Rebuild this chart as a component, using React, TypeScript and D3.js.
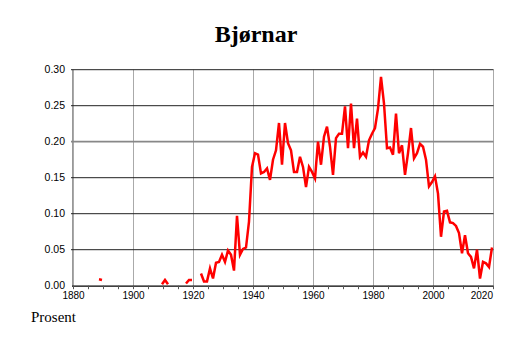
import React from "react";
import * as d3 from "d3";

const years: number[] = d3.range(1880, 2020);
const knownYears: number[] = [
  1888, 1889,
  1909, 1910, 1911,
  1917, 1918, 1919,
  1922, 1923, 1924, 1925, 1926, 1927, 1928, 1929, 1930, 1931,
  1932, 1933, 1934, 1935, 1936, 1937, 1938, 1939, 1940, 1941,
  1942, 1943, 1944, 1945, 1946, 1947, 1948, 1949, 1950, 1951,
  1952, 1953, 1954, 1955, 1956, 1957, 1958, 1959, 1960, 1961,
  1962, 1963, 1964, 1965, 1966, 1967, 1968, 1969, 1970, 1971,
  1972, 1973, 1974, 1975, 1976, 1977, 1978, 1979, 1980, 1981,
  1982, 1983, 1984, 1985, 1986, 1987, 1988, 1989, 1990, 1991,
  1992, 1993, 1994, 1995, 1996, 1997, 1998, 1999, 2000, 2001,
  2002, 2003, 2004, 2005, 2006, 2007, 2008, 2009, 2010, 2011,
  2012, 2013, 2014, 2015, 2016, 2017, 2018, 2019,
];
const knownValues: number[] = [
  0.009, 0.008,
  0.002, 0.008, 0.002,
  0.003, 0.008, 0.008,
  0.017, 0.006, 0.006, 0.024, 0.010, 0.032, 0.033, 0.043, 0.033, 0.049,
  0.043, 0.021, 0.097, 0.043, 0.051, 0.053, 0.089, 0.165, 0.184, 0.182,
  0.156, 0.158, 0.163, 0.147, 0.175, 0.188, 0.226, 0.168, 0.226, 0.198,
  0.188, 0.158, 0.158, 0.179, 0.165, 0.137, 0.165, 0.158, 0.149, 0.200,
  0.168, 0.207, 0.221, 0.193, 0.154, 0.205, 0.211, 0.211, 0.249, 0.191,
  0.253, 0.191, 0.232, 0.179, 0.185, 0.179, 0.202, 0.211, 0.219, 0.246,
  0.290, 0.253, 0.191, 0.192, 0.182, 0.239, 0.184, 0.195, 0.154, 0.184,
  0.219, 0.177, 0.184, 0.197, 0.193, 0.175, 0.138, 0.144, 0.152, 0.128,
  0.068, 0.103, 0.104, 0.088, 0.087, 0.083, 0.073, 0.045, 0.070, 0.045,
  0.040, 0.024, 0.050, 0.010, 0.033, 0.031, 0.026, 0.053,
];
const yTicks: number[] = [0, 0.05, 0.1, 0.15, 0.2, 0.25, 0.3];
const xMajorTicks: number[] = [1880, 1900, 1920, 1940, 1960, 1980, 2000, 2020];
const xMinorTicks: number[] = d3.range(1880, 2021, 5);
const title = "Bjørnar";
const yUnit = "Prosent";

export default function App() {
  const W = 514;
  const H = 343;
  const x = d3.scaleLinear().domain([1880, 2020]).range([73.5, 493.5]);
  const y = d3.scaleLinear().domain([0, 0.3]).range([285.7, 69.7]);

  const lookup = new Map<number, number>();
  knownYears.forEach((yr, i) => lookup.set(yr, knownValues[i]));
  const series = years.map((yr) => ({ yr, v: lookup.has(yr) ? (lookup.get(yr) as number) : null }));

  const line = d3
    .line<{ yr: number; v: number | null }>()
    .defined((d) => d.v !== null)
    .x((d) => x(d.yr + 0.5))
    .y((d) => y(d.v as number));

  const sans = "'Liberation Sans', Arial, sans-serif";
  const serif = "'Liberation Serif', 'Times New Roman', serif";

  return (
    <svg
      width={W}
      height={H}
      style={{ position: "absolute", left: 0, top: 0, background: "#fff" }}
    >
      <text
        x={256}
        y={41.5}
        textAnchor="middle"
        fontFamily={serif}
        fontWeight="bold"
        fontSize={24}
        fill="#000"
      >
        {title}
      </text>

      {/* vertical grid */}
      {xMajorTicks.map((t) => (
        <line
          key={"vg" + t}
          x1={x(t)}
          x2={x(t)}
          y1={y(0.3)}
          y2={y(0)}
          stroke="#aaa"
          strokeWidth={1}
        />
      ))}
      {/* left axis */}
      <line x1={72.5} x2={72.5} y1={y(0.3)} y2={y(0)} stroke="#999" strokeWidth={1} />

      {/* horizontal grid */}
      {yTicks.map((t) =>
        t === 0 ? null : (
          <line
            key={"hg" + t}
            x1={71}
            x2={493.5}
            y1={y(t)}
            y2={y(t)}
            stroke={Math.abs(t - 0.2) < 1e-9 ? "#888" : "#222"}
            strokeWidth={Math.abs(t - 0.2) < 1e-9 ? 1.8 : 1}
          />
        )
      )}

      {/* y labels */}
      {yTicks.map((t) => (
        <text
          key={"yl" + t}
          x={65}
          y={y(t) + 3.6}
          textAnchor="end"
          fontFamily={sans}
          fontSize={10.5}
          fill="#000"
        >
          {t.toFixed(2)}
        </text>
      ))}

      {/* data line */}
      <path
        d={line(series) || ""}
        fill="none"
        stroke="#ff0000"
        strokeWidth={2.5}
        strokeLinejoin="miter"
      />

      {/* bottom axis */}
      <line x1={72} x2={493.5} y1={y(0) + 0.5} y2={y(0) + 0.5} stroke="#000" strokeWidth={1.2} />
      {xMinorTicks.map((t) => (
        <line
          key={"xt" + t}
          x1={x(t)}
          x2={x(t)}
          y1={y(0)}
          y2={y(0) + 3.5}
          stroke="#555"
          strokeWidth={1}
        />
      ))}
      {xMajorTicks.map((t) => {
        const px = x(t);
        const overflow = px + 11 > 494;
        return (
          <text
            key={"xl" + t}
            x={overflow ? 493 : px}
            y={298.5}
            textAnchor={overflow ? "end" : "middle"}
            fontFamily={sans}
            fontSize={10}
            fill="#000"
          >
            {t}
          </text>
        );
      })}

      <text x={31} y={321.5} fontFamily={serif} fontSize={15} fill="#000">
        {yUnit}
      </text>
    </svg>
  );
}
